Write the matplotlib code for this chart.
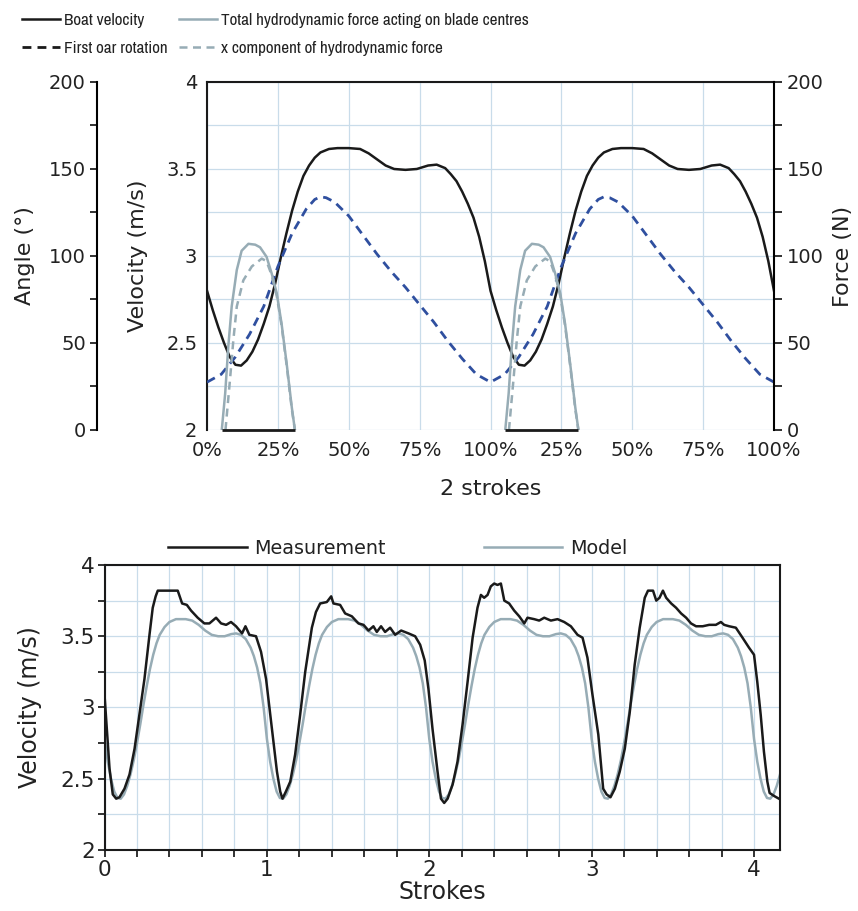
import numpy as np
import matplotlib.pyplot as plt
from matplotlib import font_manager
from matplotlib.ticker import MultipleLocator, FormatStrFormatter

# ---- top chart: one stroke, repeated for "2 strokes" ----
stroke_x = [0, .02, .04, .06, .08, .10, .12, .14, .16, .18, .20, .22, .24, .26,
            .28, .30, .32, .34, .36, .38, .40, .43, .46, .50, .54, .57, .60, .63,
            .66, .70, .74, .78, .81, .84, .86, .88, .90, .92, .94, .96, .98, 1.0]
boat_v = [2.80, 2.69, 2.59, 2.50, 2.42, 2.375, 2.37, 2.40, 2.45, 2.52, 2.61, 2.71,
          2.84, 2.99, 3.13, 3.26, 3.37, 3.46, 3.52, 3.565, 3.595, 3.615, 3.62, 3.62,
          3.615, 3.59, 3.555, 3.52, 3.50, 3.495, 3.50, 3.52, 3.525, 3.505, 3.47,
          3.43, 3.37, 3.30, 3.22, 3.11, 2.97, 2.80]

angle_x = [0, .05, .10, .15, .20, .25, .30, .35, .38, .40, .42, .45, .50, .55,
           .60, .65, .70, .75, .80, .85, .90, .95, 1.0]
oar_angle = [27.5, 32, 42, 55, 71, 94, 113, 127, 132.5, 134, 133.5, 131, 123, 112,
             101, 91, 82, 72, 62, 51, 41, 32, 27.5]

force_x = [.052, .064, .075, .087, .105, .122, .146, .17, .187, .21, .228, .246,
           .263, .281, .299, .31]
force_total = [0, 21, 48, 71, 92, 103, 107, 106.5, 105, 99.5, 90, 78.5, 61, 38, 13, 0]

xcomp_x = [.065, .081, .093, .105, .128, .158, .193, .21, .228, .246, .263, .281,
           .299, .31]
force_xcomp = [0, 29, 52, 71, 86, 94, 98.5, 97, 89, 77, 60, 37, 12, 0]

top_strokes = [0, 1]
top_xticklabels = ['0%', '25%', '50%', '75%', '100%', '25%', '50%', '75%', '100%']

# ---- bottom chart ----
model_x = [0, .02, .04, .06, .08, .10, .12, .14, .16, .18, .20, .22, .24, .26, .28,
           .30, .32, .34, .37, .40, .44, .50, .54, .58, .62, .66, .70, .74, .78,
           .81, .84, .87, .90, .92, .94, .96, .98, 1.0]
model_v = [2.78, 2.62, 2.50, 2.41, 2.365, 2.36, 2.39, 2.45, 2.53, 2.63, 2.75, 2.88,
           3.02, 3.15, 3.27, 3.37, 3.45, 3.51, 3.565, 3.60, 3.62, 3.62, 3.61, 3.58,
           3.54, 3.51, 3.50, 3.50, 3.515, 3.52, 3.51, 3.48, 3.42, 3.36, 3.28, 3.17,
           3.00, 2.78]
model_strokes = [0, 1, 2, 3, 4]

meas_x = [0.000, 0.014, 0.031, 0.051, 0.072, 0.092, 0.123, 0.154, 0.185, 0.215,
          0.246, 0.277, 0.297, 0.315, 0.328, 0.451, 0.478, 0.507, 0.533, 0.574,
          0.615, 0.646, 0.687, 0.718, 0.749, 0.779, 0.810, 0.847, 0.868, 0.892,
          0.933, 0.964, 0.995, 1.021, 1.041, 1.062, 1.082, 1.096, 1.117, 1.144,
          1.174, 1.205, 1.236, 1.277, 1.302, 1.328, 1.369, 1.396, 1.410, 1.451,
          1.482, 1.523, 1.564, 1.595, 1.626, 1.656, 1.677, 1.703, 1.728, 1.759,
          1.790, 1.827, 1.872, 1.913, 1.944, 1.972, 1.995, 2.020, 2.051, 2.072,
          2.092, 2.113, 2.144, 2.174, 2.205, 2.236, 2.267, 2.297, 2.318, 2.338,
          2.359, 2.379, 2.400, 2.420, 2.441, 2.462, 2.492, 2.523, 2.554, 2.585,
          2.605, 2.646, 2.677, 2.708, 2.749, 2.790, 2.831, 2.872, 2.913, 2.944,
          2.974, 3.005, 3.041, 3.071, 3.092, 3.116, 3.143, 3.173, 3.204, 3.235,
          3.265, 3.296, 3.327, 3.347, 3.378, 3.398, 3.418, 3.439, 3.459, 3.490,
          3.520, 3.551, 3.582, 3.612, 3.643, 3.684, 3.724, 3.765, 3.796, 3.816,
          3.847, 3.888, 3.929, 3.969, 4.000, 4.020, 4.041, 4.061, 4.082, 4.096,
          4.122, 4.153]
meas_v = [3.09, 2.85, 2.57, 2.39, 2.36, 2.37, 2.43, 2.53, 2.71, 2.95,
          3.20, 3.51, 3.70, 3.78, 3.82, 3.82, 3.73, 3.72, 3.68, 3.63,
          3.59, 3.59, 3.63, 3.59, 3.58, 3.60, 3.57, 3.52, 3.57, 3.51,
          3.50, 3.39, 3.20, 2.95, 2.76, 2.55, 2.41, 2.36, 2.41, 2.48,
          2.67, 2.95, 3.25, 3.56, 3.67, 3.73, 3.74, 3.78, 3.73, 3.72,
          3.66, 3.64, 3.59, 3.58, 3.54, 3.57, 3.53, 3.57, 3.53, 3.56,
          3.51, 3.54, 3.52, 3.50, 3.44, 3.33, 3.13, 2.85, 2.55, 2.36,
          2.33, 2.36, 2.46, 2.62, 2.88, 3.18, 3.49, 3.70, 3.79, 3.77,
          3.79, 3.85, 3.87, 3.86, 3.87, 3.75, 3.73, 3.68, 3.64, 3.59,
          3.63, 3.62, 3.61, 3.63, 3.61, 3.62, 3.60, 3.57, 3.51, 3.49,
          3.35, 3.09, 2.81, 2.43, 2.39, 2.37, 2.43, 2.55, 2.71, 2.97,
          3.30, 3.56, 3.77, 3.82, 3.82, 3.75, 3.77, 3.82, 3.77, 3.73,
          3.70, 3.66, 3.63, 3.59, 3.57, 3.57, 3.58, 3.58, 3.60, 3.58,
          3.57, 3.56, 3.49, 3.42, 3.37, 3.18, 2.95, 2.69, 2.48, 2.40,
          2.38, 2.36]

BLACK = '#1a1a1a'
GREY = '#97acb5'
BLUE = '#2f4f9f'
GRID = '#c9dcea'
TXT = '#222222'

# the legend of the top chart uses a condensed face; take one if installed
narrow = None
for f in font_manager.fontManager.ttflist:
    if 'Narrow' in f.name or 'Condensed' in f.name:
        narrow = f.name
        break
if narrow:
    top_leg_prop = {'family': [narrow, 'DejaVu Sans'], 'size': 12.3}
else:
    top_leg_prop = {'family': ['Liberation Sans', 'DejaVu Sans'], 'size': 9.8}

fig = plt.figure(figsize=(8.58, 9.11), dpi=100)

# ================= top chart =================
ax = fig.add_axes([0.2413, 0.528, 0.6608, 0.382])
ax_ang = ax.twinx()
ax_f = ax.twinx()


def tile(xs, ys, reps):
    return (np.concatenate([np.array(xs) + k for k in reps]),
            np.concatenate([np.array(ys) for k in reps]))


vx, vy = tile(stroke_x, boat_v, top_strokes)
l_vel, = ax.plot(vx, vy, color=BLACK, lw=1.8)

ax_x, ax_y = tile(angle_x, oar_angle, top_strokes)
l_ang, = ax_ang.plot(ax_x, ax_y, color=BLUE, lw=2, dashes=(3.2, 2.2))

for k in top_strokes:
    l_force, = ax_f.plot(np.array(force_x) + k, force_total, color=GREY, lw=1.8)
    l_xc, = ax_f.plot(np.array(xcomp_x) + k, force_xcomp, color=GREY, lw=1.8,
                      dashes=(3.2, 2.2))
    ax_f.hlines(0, force_x[0] + k, force_x[-1] + k, color=BLACK, lw=2, clip_on=False)

ax.set_xlim(0, 2)
ax.set_ylim(2, 4)
ax_ang.set_ylim(0, 200)
ax_f.set_ylim(0, 200)

ax.set_xticks(np.arange(0, 2.01, 0.25))
ax.set_xticklabels(top_xticklabels)
ax.yaxis.set_major_locator(MultipleLocator(0.5))
ax.yaxis.set_minor_locator(MultipleLocator(0.25))
ax.yaxis.set_major_formatter(FormatStrFormatter('%g'))
ax.tick_params(which='both', length=0, labelsize=14, colors=TXT)
ax.tick_params(axis='x', pad=8)
ax.tick_params(axis='y', pad=7)
ax.grid(which='both', color=GRID, lw=0.9)
ax.set_axisbelow(True)

for s in ['right', 'bottom']:
    ax.spines[s].set_visible(False)
for s in ['left', 'top']:
    ax.spines[s].set_linewidth(1.5)
    ax.spines[s].set_color(BLACK)

# angle axis, offset to the left
for s in ['right', 'top', 'bottom']:
    ax_ang.spines[s].set_visible(False)
ax_ang.spines['left'].set_visible(True)
ax_ang.spines['left'].set_position(('axes', -110 / 567))
ax_ang.spines['left'].set_linewidth(1.5)
ax_ang.yaxis.set_ticks_position('left')
ax_ang.yaxis.set_label_position('left')
ax_ang.yaxis.set_major_locator(MultipleLocator(50))
ax_ang.yaxis.set_minor_locator(MultipleLocator(25))
ax_ang.tick_params(which='both', direction='out', length=5, width=1.3,
                   labelsize=14, pad=3, colors=TXT)

# force axis on the right
for s in ['left', 'top', 'bottom']:
    ax_f.spines[s].set_visible(False)
ax_f.spines['right'].set_linewidth(1.5)
ax_f.yaxis.set_major_locator(MultipleLocator(50))
ax_f.yaxis.set_minor_locator(MultipleLocator(25))
ax_f.tick_params(which='both', direction='out', length=6, width=1.3,
                 labelsize=14, pad=3, colors=TXT)

ax.set_ylabel('Velocity (m/s)', fontsize=16, color=TXT)
ax.yaxis.set_label_coords(-0.104, 0.5)
ax_ang.set_ylabel('Angle (°)', fontsize=16, color=TXT)
ax_ang.yaxis.set_label_coords(-0.303, 0.5)
ax_f.set_ylabel('Force (N)', fontsize=16, color=TXT)
ax_f.yaxis.set_label_coords(1.104, 0.5)
ax.set_xlabel('2 strokes', fontsize=16, color=TXT)
ax.xaxis.set_label_coords(0.5, -0.141)

leg = fig.legend([l_vel, l_ang, l_force, l_xc],
                 ['Boat velocity', 'First oar rotation',
                  'Total hydrodynamic force acting on blade centres',
                  'x component of hydrodynamic force'],
                 ncol=2, loc='upper left', bbox_to_anchor=(22 / 858, 1 - 13 / 911),
                 frameon=False, prop=top_leg_prop,
                 handlelength=2.2, handletextpad=0.25, columnspacing=0.7,
                 labelspacing=0.75, borderpad=0, borderaxespad=0)
leg.legend_handles[1].set_color(BLACK)
for t in leg.get_texts():
    t.set_color(TXT)

# ================= bottom chart =================
ax2 = fig.add_axes([0.1218, 0.067, 0.7873, 0.3128])
mx, my = tile(model_x, model_v, model_strokes)
l_model, = ax2.plot(mx, my, color=GREY, lw=1.8)
l_meas, = ax2.plot(meas_x, meas_v, color=BLACK, lw=1.8)

ax2.set_xlim(0, 4.16)
ax2.set_ylim(2, 4)
ax2.xaxis.set_major_locator(MultipleLocator(1))
ax2.xaxis.set_minor_locator(MultipleLocator(0.2))
ax2.yaxis.set_major_locator(MultipleLocator(0.5))
ax2.yaxis.set_minor_locator(MultipleLocator(0.25))
ax2.yaxis.set_major_formatter(FormatStrFormatter('%g'))
ax2.tick_params(which='both', direction='out', length=5, width=1.3,
                labelsize=15.5, colors=TXT)
ax2.tick_params(axis='y', pad=2)
ax2.tick_params(axis='x', pad=2)
ax2.grid(which='both', color=GRID, lw=0.9)
ax2.set_axisbelow(True)
for s in ax2.spines.values():
    s.set_linewidth(1.5)
    s.set_color(BLACK)

ax2.set_ylabel('Velocity (m/s)', fontsize=17, color=TXT)
ax2.yaxis.set_label_coords(-0.0925, 0.5)
ax2.set_xlabel('Strokes', fontsize=17, color=TXT)
ax2.xaxis.set_label_coords(0.5, -0.105)

leg2 = fig.legend([l_meas, l_model], ['Measurement', 'Model'], ncol=2,
                  loc='center left', bbox_to_anchor=(168 / 858, 1 - 548 / 911),
                  frameon=False, fontsize=13.8, handlelength=4.1,
                  handletextpad=0.4, columnspacing=5.1, borderpad=0,
                  borderaxespad=0)
for t in leg2.get_texts():
    t.set_color(TXT)

fig.savefig('out.png', dpi=100)
